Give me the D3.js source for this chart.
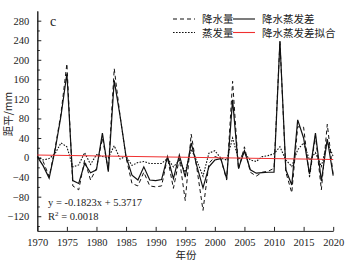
<!DOCTYPE html>
<html lang="zh">
<head>
<meta charset="UTF-8">
<script src="https://d3js.org/d3.v7.min.js"></script>
<style>
  body { margin: 0; background: #fff; }
  text { font-family: "Liberation Serif", "Times New Roman", serif; fill: #222; }
  .cjk { font-family: "Noto Sans CJK SC", sans-serif; }
</style>
</head>
<body>
<div id="chart"></div>
<script>
// years on the x axis
const years = d3.range(1970, 2021);

// 降水量 anomaly (dashed)
const precip = [2, -8, -39, 18, 90, 192, -58, -66, -5, -46, -22, 40, -25, 182,
  84, 0, -53, -58, -30, -58, -60, -58, 0, -63, -2, -88, 48, -25, -108, -12,
  2, -2, -46, 156, -24, 22, -30, -38, -30, -28, -22, 238, -30, -72, 63, 62,
  -40, 45, -66, 68, -36];

// 蒸发量 anomaly (dotted)
const evap = [2, -5, -2, 8, 30, 22, -19, -15, 10, -14, 6, 2, 0, 24,
  -3, 3, -16, -10, -8, -12, -12, -12, -2, -19, -6, -30, 17, -8, -38, 9,
  14, -1, -5, 40, -4, 9, -5, -8, 2, 4, 8, 22, -5, -18, 16, 30,
  -5, 10, -18, 32, 2];

// 降水蒸发差 (solid)
const diff = [2, -17, -42, 15, 85, 172, -47, -53, -12, -31, -25, 50, -29, 158,
  84, 2, -36, -46, -19, -46, -47, -45, 2, -43, 5, -40, 30, -19, -62, -19,
  -5, -2, -43, 118, -22, 14, -25, -32, -31, -30, -30, 238, -25, -56, 77, 40,
  -34, 50, -48, 38, -37];

// linear fit printed on the chart
const fitSlope = -0.1823;
const fitIntercept = 5.3717;

const yTicks = d3.range(-120, 281, 40);
const xTicks = d3.range(1970, 2021, 5);

const width = 347, height = 266;
const svg = d3.select("#chart").append("svg")
  .attr("width", width).attr("height", height);

const x = d3.scaleLinear().domain([1970, 2020]).range([37.3, 333.2]);
const y = d3.scaleLinear().domain([-150, 300]).range([230.9, 10.9]);

// axes (ticks pointing inward)
const yAxis = d3.axisLeft(y).tickValues(yTicks).tickSize(-4).tickPadding(8).tickSizeOuter(0);
const yMinor = d3.axisLeft(y).tickValues(d3.range(-140, 300, 40)).tickSize(-2.5).tickFormat("").tickSizeOuter(0);
const xAxis = d3.axisBottom(x).tickValues(xTicks).tickSize(-4).tickPadding(8).tickFormat(d3.format("d")).tickSizeOuter(0);

const gy = svg.append("g").attr("transform", `translate(${x.range()[0]},0)`).call(yAxis);
svg.append("g").attr("transform", `translate(${x.range()[0]},0)`).call(yMinor);
const gx = svg.append("g").attr("transform", `translate(0,${y.range()[0]})`).call(xAxis);

svg.selectAll(".domain").attr("stroke", "#222").attr("stroke-width", 1);
svg.selectAll(".tick line").attr("stroke", "#222");
gy.selectAll("text").attr("font-size", 10.5).attr("font-family", "Liberation Serif");
gx.selectAll("text").attr("font-size", 10.5).attr("font-family", "Liberation Serif");

// series
const line = arr => d3.line().x((d, i) => x(years[i])).y(d => y(d))(arr);

svg.append("path").attr("d", line(evap))
  .attr("fill", "none").attr("stroke", "#111").attr("stroke-width", 1.1)
  .attr("stroke-dasharray", "1.6,1.4");
svg.append("path").attr("d", line(precip))
  .attr("fill", "none").attr("stroke", "#111").attr("stroke-width", 1)
  .attr("stroke-dasharray", "4,3");
svg.append("path").attr("d", line(diff))
  .attr("fill", "none").attr("stroke", "#111").attr("stroke-width", 1.2);

// fit line
const fx = [years[0], years[years.length - 1]];
svg.append("line")
  .attr("x1", x(fx[0])).attr("y1", y(fitSlope * 1 + fitIntercept))
  .attr("x2", x(fx[1])).attr("y2", y(fitSlope * years.length + fitIntercept))
  .attr("stroke", "#f03030").attr("stroke-width", 1);

// panel letter
svg.append("text").attr("x", 50).attr("y", 26).attr("font-size", 14).text("c");

// legend
const legend = [
  { label: "降水量", x: 173, y: 19, dash: "4,3", color: "#111" },
  { label: "降水蒸发差", x: 233, y: 19, dash: null, color: "#111" },
  { label: "蒸发量", x: 173, y: 32.5, dash: "1.6,1.4", color: "#111" },
  { label: "降水蒸发差拟合", x: 233, y: 32.5, dash: null, color: "#f03030" }
];
legend.forEach(d => {
  svg.append("line").attr("x1", d.x).attr("x2", d.x + 22)
    .attr("y1", d.y).attr("y2", d.y)
    .attr("stroke", d.color).attr("stroke-width", 1.1)
    .attr("stroke-dasharray", d.dash);
  svg.append("text").attr("class", "cjk").attr("x", d.x + 29).attr("y", d.y + 4)
    .attr("font-size", 10.5).attr("fill", "#333").text(d.label);
});

// equation
svg.append("text").attr("x", 48).attr("y", 206).attr("font-size", 10.5)
  .text("y = -0.1823x + 5.3717");
const r2 = svg.append("text").attr("x", 48).attr("y", 220).attr("font-size", 10.5);
r2.append("tspan").text("R");
r2.append("tspan").attr("dy", -4).attr("font-size", 7).text("2");
r2.append("tspan").attr("dy", 4).text(" = 0.0018");

// axis titles
svg.append("text").attr("class", "cjk")
  .attr("transform", "translate(12,114) rotate(-90)")
  .attr("text-anchor", "middle").attr("font-size", 10.5).attr("fill", "#333")
  .text("距平/mm");
svg.append("text").attr("class", "cjk")
  .attr("x", 186).attr("y", 259).attr("text-anchor", "middle")
  .attr("font-size", 10.5).attr("fill", "#333").text("年份");
</script>
</body>
</html>
